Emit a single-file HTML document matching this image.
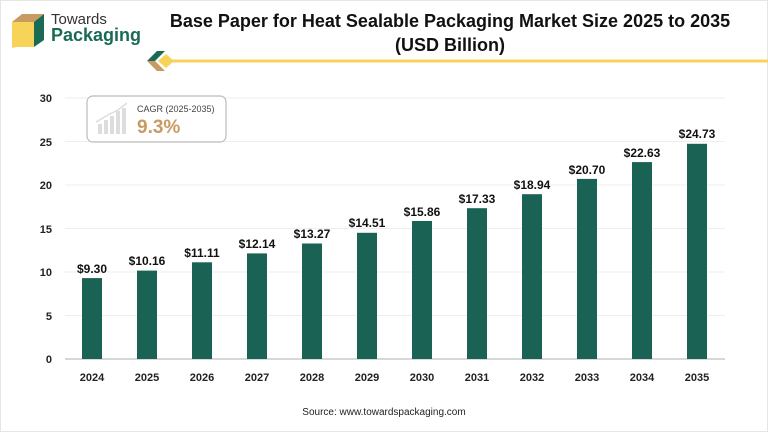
<!DOCTYPE html>
<html><head><style>
body{margin:0;width:768px;height:432px;background:#fff;overflow:hidden;font-family:"Liberation Sans",sans-serif;}
</style></head><body>
<svg width="768" height="432" xmlns="http://www.w3.org/2000/svg">
<rect x="0.5" y="0.5" width="767" height="431" fill="#fff" stroke="#e6e6e6"/>
<!-- logo -->
<polygon points="12,22 38,14 38,42 12,48" fill="#f7d35a"/>
<polygon points="12,22 22,14 44,14 34,22" fill="#c99a62"/>
<polygon points="34,22 44,14 44,40 34,47" fill="#1a6b55"/>
<rect x="12" y="29" width="22" height="18" fill="#f7d35a"/>
<text x="51" y="24" font-size="15" fill="#333">Towards</text>
<text x="51" y="41" font-size="18" font-weight="bold" fill="#1a6b55">Packaging</text>
<!-- title -->
<text x="450" y="27" text-anchor="middle" font-size="18" font-weight="bold" fill="#111">Base Paper for Heat Sealable Packaging Market Size 2025 to 2035</text>
<text x="450" y="51" text-anchor="middle" font-size="18" font-weight="bold" fill="#111">(USD Billion)</text>
<!-- ornament -->
<polygon points="147,61 157,51 165,51 155,61" fill="#1a6b55"/>
<polygon points="147,61 155,61 165,71 157,71" fill="#c99a62"/>
<polygon points="158,61 166,54 174,61 166,68" fill="#f7d35a"/>
<line x1="172" y1="61" x2="768" y2="61" stroke="#f7d35a" stroke-width="3"/>
<!-- grid -->
<g stroke="#eeeeee" stroke-width="1">
<line x1="65" y1="98" x2="725" y2="98"/><line x1="65" y1="141.5" x2="725" y2="141.5"/>
<line x1="65" y1="185" x2="725" y2="185"/><line x1="65" y1="228.5" x2="725" y2="228.5"/>
<line x1="65" y1="272" x2="725" y2="272"/><line x1="65" y1="315.5" x2="725" y2="315.5"/>
</g>
<line x1="65" y1="359" x2="725" y2="359" stroke="#cccccc" stroke-width="1.5"/>
<g font-size="11" font-weight="bold" fill="#222" text-anchor="end">
<text x="52" y="102">30</text><text x="52" y="146">25</text><text x="52" y="189">20</text>
<text x="52" y="233">15</text><text x="52" y="276">10</text><text x="52" y="320">5</text><text x="52" y="363">0</text>
</g>
<!-- CAGR box -->
<rect x="87" y="96" width="139" height="46" rx="6" fill="#fff" stroke="#bbb" stroke-width="1.2"/>
<g fill="#ddd"><rect x="98" y="124" width="4" height="10"/><rect x="104" y="120" width="4" height="14"/><rect x="110" y="116" width="4" height="18"/><rect x="116" y="111" width="4" height="23"/><rect x="122" y="108" width="4" height="26"/></g>
<polyline points="96,122 108,115 118,110 127,103" fill="none" stroke="#ddd" stroke-width="1.5"/>
<text x="137" y="112" font-size="9" fill="#444">CAGR (2025-2035)</text>
<text x="137" y="133" font-size="19" font-weight="bold" fill="#c99a62">9.3%</text>
<!-- bars -->
<g fill="#1a6253">
<rect x="82" y="278.1" width="20" height="80.9"/>
<rect x="137" y="270.6" width="20" height="88.4"/>
<rect x="192" y="262.3" width="20" height="96.7"/>
<rect x="247" y="253.4" width="20" height="105.6"/>
<rect x="302" y="243.5" width="20" height="115.5"/>
<rect x="357" y="232.8" width="20" height="126.2"/>
<rect x="412" y="221.0" width="20" height="138.0"/>
<rect x="467" y="208.2" width="20" height="150.8"/>
<rect x="522" y="194.2" width="20" height="164.8"/>
<rect x="577" y="178.9" width="20" height="180.1"/>
<rect x="632" y="162.1" width="20" height="196.9"/>
<rect x="687" y="143.8" width="20" height="215.2"/>
</g>
<g font-size="12" font-weight="bold" fill="#111" text-anchor="middle">
<text x="92" y="273">$9.30</text><text x="147" y="265">$10.16</text><text x="202" y="257">$11.11</text>
<text x="257" y="248">$12.14</text><text x="312" y="238">$13.27</text><text x="367" y="227">$14.51</text>
<text x="422" y="216">$15.86</text><text x="477" y="203">$17.33</text><text x="532" y="189">$18.94</text>
<text x="587" y="174">$20.70</text><text x="642" y="157">$22.63</text><text x="697" y="138">$24.73</text>
</g>
<g font-size="11" font-weight="bold" fill="#222" text-anchor="middle">
<text x="92" y="381">2024</text><text x="147" y="381">2025</text><text x="202" y="381">2026</text>
<text x="257" y="381">2027</text><text x="312" y="381">2028</text><text x="367" y="381">2029</text>
<text x="422" y="381">2030</text><text x="477" y="381">2031</text><text x="532" y="381">2032</text>
<text x="587" y="381">2033</text><text x="642" y="381">2034</text><text x="697" y="381">2035</text>
</g>
<text x="384" y="415" text-anchor="middle" font-size="10" fill="#222">Source: www.towardspackaging.com</text>
</svg>
</body></html>
